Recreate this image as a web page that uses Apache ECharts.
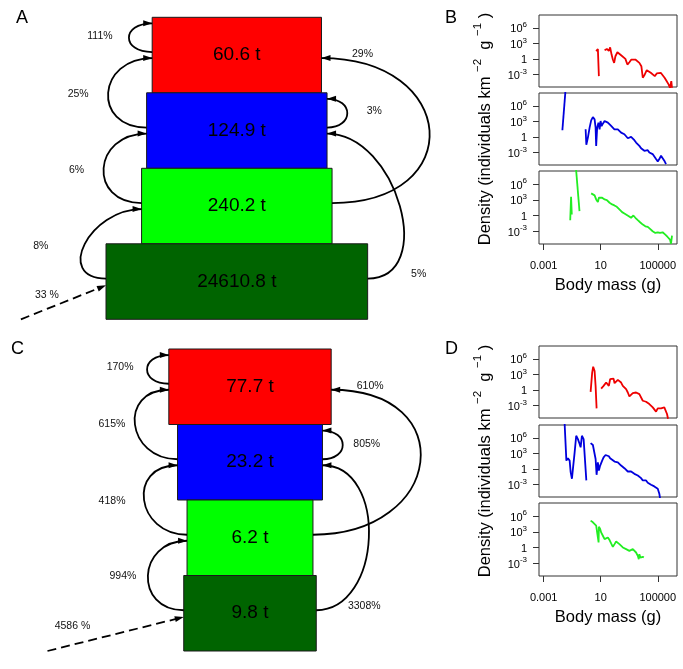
<!DOCTYPE html>
<html><head><meta charset="utf-8">
<script src="https://cdn.jsdelivr.net/npm/echarts@6/dist/echarts.min.js"></script>
<style>html,body{margin:0;padding:0;background:#fff}#c{width:683px;height:669px}</style>
</head><body><div id="c"></div><script>
const FONT = '"Liberation Sans", Arial, Helvetica, sans-serif';

// ---------- Panels A & C : biomass per trophic level (t), top level first ----------
const levelColors = ['#FF0000', '#0000FF', '#00FF00', '#006400'];
const biomassA = [60.6, 124.9, 240.2, 24610.8];
const biomassC = [77.7, 23.2, 6.2, 9.8];
// flows: [from level, to level, side, label]
const flowsA = [[0,0,'L','111%'],[1,0,'L','25%'],[2,1,'L','6%'],[3,2,'L','8%'],[1,1,'R','3%'],[2,0,'R','29%'],[3,1,'R','5%']];
const flowsC = [[0,0,'L','170%'],[1,0,'L','615%'],[2,1,'L','418%'],[3,2,'L','994%'],[1,1,'R','805%'],[2,0,'R','610%'],[3,1,'R','3308%']];
const importA = '33 %';
const importC = '4586 %';

// ---------- Panels B & D : size spectra, [log10 body mass (g), log10 density] ----------
const bRed1 = [[0.68,1.5],[0.80,1.9],[0.87,-3.34]];
const bRed2 = [[1.27,1.66],[1.43,1.92],[1.57,1.53],[1.66,2.24],[1.76,0.83],[1.85,-0.13],[1.94,-0.77],[2.03,0.51],[2.17,1.28],[2.31,1.03],[2.45,0.64],[2.59,0.38],[2.73,0.0],[2.87,-1.1],[3.01,-0.65],[3.15,-0.13],[3.29,0.19],[3.43,-0.13],[3.57,-0.44],[3.71,-0.77],[3.85,-1.42],[3.95,-3.66],[4.09,-3.02],[4.23,-2.19],[4.37,-2.44],[4.51,-2.70],[4.65,-3.08],[4.79,-3.34],[4.93,-2.83],[5.07,-2.57],[5.21,-2.70],[5.35,-3.08],[5.48,-3.66],[5.62,-4.30],[5.76,-4.94],[5.86,-5.6],[5.95,-4.30],[6.0,-5.6]];
const bBlue1 = [[-1.69,1.28],[-1.45,9.8]];
const bBlue2 = [[-0.06,1.47],[-0.01,-1.54],[0.10,-0.13],[0.22,1.79],[0.33,3.20],[0.45,3.84],[0.57,3.39],[0.64,1.79],[0.68,-1.74],[0.75,1.79],[0.84,2.75],[0.92,1.47],[0.99,3.07],[1.06,2.11],[1.15,2.56],[1.27,3.07],[1.38,2.94],[1.50,2.75],[1.62,2.43],[1.73,2.11],[1.85,1.92],[1.96,1.47],[2.08,1.66],[2.20,1.47],[2.31,1.28],[2.43,0.83],[2.55,0.64],[2.66,0.51],[2.78,0.19],[2.90,-0.26],[3.01,-0.13],[3.13,0.0],[3.25,-0.26],[3.36,-0.65],[3.48,-1.1],[3.60,-1.42],[3.71,-1.74],[3.83,-2.19],[3.95,-2.06],[4.06,-2.70],[4.18,-2.38],[4.30,-2.57],[4.41,-3.02],[4.53,-3.21],[4.64,-3.34],[4.76,-3.66],[4.88,-4.30],[5.00,-4.75],[5.11,-4.30],[5.23,-3.66],[5.34,-3.98],[5.46,-4.62],[5.58,-5.27]];
const bGreen1 = [[-1.14,-0.9],[-1.08,3.59],[-1.03,0.2]];
const bGreen2 = [[-0.76,9.8],[-0.49,0.83]];
const bGreen3 = [[0.33,4.22],[0.45,4.35],[0.57,3.84],[0.68,3.07],[0.80,2.56],[0.87,3.39],[0.96,3.59],[1.10,3.39],[1.27,3.07],[1.43,2.94],[1.62,2.43],[1.80,2.11],[1.96,1.92],[2.13,1.66],[2.31,1.15],[2.50,0.64],[2.66,0.38],[2.78,0.19],[2.97,-0.13],[3.13,-0.44],[3.29,0.0],[3.43,-0.44],[3.60,-0.90],[3.76,-1.29],[3.95,-1.74],[4.13,-2.06],[4.30,-2.19],[4.46,-2.57],[4.64,-3.02],[4.83,-3.34],[5.00,-3.21],[5.16,-3.34],[5.34,-3.21],[5.53,-3.66],[5.69,-4.11],[5.86,-4.62],[5.93,-5.4],[6.0,-3.85]];
const dRed1 = [[0.29,-0.38],[0.40,3.34],[0.47,4.49],[0.57,3.66],[0.64,0.78],[0.71,-3.58]];
const dRed2 = [[1.03,0.26],[1.20,0.78],[1.38,1.42],[1.50,1.74],[1.57,0.78],[1.66,2.06],[1.73,2.38],[1.80,1.74],[1.90,2.19],[1.97,1.29],[2.08,1.54],[2.20,1.93],[2.31,1.93],[2.43,1.42],[2.55,0.78],[2.66,0.46],[2.78,0.13],[2.90,-0.51],[3.01,-1.28],[3.13,-1.02],[3.25,-0.63],[3.36,-0.38],[3.48,-0.51],[3.60,-0.63],[3.71,-0.83],[3.83,-1.15],[3.95,-2.11],[4.06,-1.79],[4.18,-2.30],[4.30,-2.43],[4.41,-2.75],[4.53,-2.94],[4.65,-3.39],[4.76,-3.71],[4.88,-4.22],[5.00,-3.58],[5.11,-3.39],[5.23,-3.58],[5.35,-3.39],[5.46,-3.39],[5.58,-3.71],[5.65,-4.67],[5.72,-5.6]];
const dBlue1 = [[-1.55,9.8],[-1.41,1.60],[-1.30,2.05],[-1.18,1.60],[-1.11,-0.64],[-1.02,-1.92],[-0.95,0.0],[-0.83,3.21],[-0.72,6.41],[-0.60,5.77],[-0.48,4.81],[-0.41,4.17],[-0.32,6.41],[-0.20,5.77],[-0.13,6.09],[-0.06,5.77],[-0.01,-2.24]];
const dBlue2 = [[0.29,5.0],[0.45,4.62],[0.57,4.49],[0.64,1.92],[0.71,-1.15],[0.80,1.28],[0.87,-0.32],[0.96,0.64],[1.03,0.96],[1.10,1.60],[1.20,2.24],[1.34,2.69],[1.43,2.56],[1.57,2.44],[1.66,2.05],[1.80,1.92],[1.97,1.41],[2.08,1.60],[2.20,1.28],[2.31,1.09],[2.43,0.64],[2.55,0.32],[2.66,0.13],[2.78,-0.13],[2.90,-0.51],[3.01,-0.32],[3.13,-0.51],[3.25,-0.64],[3.36,-0.96],[3.48,-1.15],[3.60,-1.28],[3.71,-1.60],[3.83,-1.79],[3.95,-2.24],[4.06,-1.92],[4.18,-2.24],[4.30,-2.69],[4.41,-2.88],[4.53,-3.08],[4.65,-3.21],[4.76,-3.40],[4.88,-3.33],[5.00,-3.85],[5.11,-4.81],[5.16,-5.7]];
const dGreen1 = [[0.29,5.13],[0.45,4.81],[0.57,4.49],[0.68,4.17],[0.80,3.97],[0.85,0.96],[0.87,3.97],[0.96,3.53],[1.03,2.88],[1.15,2.24],[1.27,1.60],[1.38,1.28],[1.50,1.92],[1.62,1.41],[1.73,0.77],[1.85,0.13],[1.97,0.64],[2.08,1.15],[2.20,0.96],[2.31,0.64],[2.43,0.32],[2.55,0.0],[2.66,-0.13],[2.78,-0.32],[2.90,-0.51],[3.01,-0.64],[3.13,-0.51],[3.25,-0.32],[3.36,-0.51],[3.48,-0.96],[3.60,-1.60],[3.67,-2.24],[3.71,-1.28],[3.78,-1.92],[3.85,-1.60],[3.95,-1.79],[4.02,-1.92]];

const xTickValues = [-3, 1, 5];
const xTickLabels = ['0.001', '10', '100000'];
const yTickValues = [-3, 0, 3, 6];
const yTickLabels = ['{b|10}{s|-3}', '{b|1}', '{b|10}{s|3}', '{b|10}{s|6}'];

// ---------- styles (not data) ----------
const lineColors = {red:'#EE0000', blue:'#0000DD', green:'#22EE22'};
const styleA = {bend:[31,55,54,52,27,137,70],
  label:[['mid',-29,-2],['mid',-30,1],['mid',-27,1.5],['mid',-44,2.5],['mid',27,-2],['end',41,-4],['start',51,-4]],
  importFrom:[-6.1,0], importLabel:[26,-24]};
const styleC = {bend:[29,51,51,50,27,131,66],
  label:[['mid',-27,-2],['mid',-23,0],['mid',-32,1],['mid',-25,1],['mid',24,-1],['end',39,-4],['start',48,-4]],
  importFrom:[-6.1,0], importLabel:[25,-25]};

function halfWidth(b){ return Math.log10(b * 1000) / 2; }

function boxSeries(biomass, gi){
  return {type:'custom', xAxisIndex:gi, yAxisIndex:gi, z:2,
    data: biomass.map((b,i)=>[i,b]),
    renderItem(params, api){
      const i = api.value(0), b = api.value(1), hw = halfWidth(b), row = 3 - i;
      const p0 = api.coord([-hw, row+1]), p1 = api.coord([hw, row]);
      return {type:'group', children:[
        {type:'rect', shape:{x:p0[0], y:p0[1], width:p1[0]-p0[0], height:p1[1]-p0[1]},
          style:{fill:levelColors[i], stroke:'#1a1a1a', lineWidth:1}},
        {type:'text', style:{text:b.toFixed(1)+' t', x:(p0[0]+p1[0])/2, y:(p0[1]+p1[1])/2,
          align:'center', verticalAlign:'middle', textAlign:'center', textVerticalAlign:'middle',
          fontSize:19, fontFamily:FONT, fill:'#000'}}
      ]};
    }};
}

function head(tip, dir, L, W){
  const nx = -dir[1], ny = dir[0];
  const bx = tip[0] - dir[0]*L, by = tip[1] - dir[1]*L;
  return {type:'polygon', shape:{points:[[tip[0],tip[1]],[bx+nx*W, by+ny*W],[bx-nx*W, by-ny*W]]}, style:{fill:'#000'}};
}
function labelText(txt, x, y){
  return {type:'text', style:{text:txt, x:x, y:y, align:'center', verticalAlign:'middle',
    textAlign:'center', textVerticalAlign:'middle', fontSize:10.5, fontFamily:FONT, fill:'#111'}};
}

function flowSeries(biomass, flows, impLabel, st, gi){
  return {type:'custom', xAxisIndex:gi, yAxisIndex:gi, z:3,
    data: flows.map((f,i)=>[i]).concat([[flows.length]]),
    renderItem(params, api){
      const k = params.dataIndex;
      if (k < flows.length){
        const [from, to, side, label] = flows[k];
        const s = side === 'L' ? -1 : 1;
        const y0 = (3-from) + 0.5 + 0.04;
        const y3 = from === to ? (3-to) + 0.92 : (3-to) + 0.5 - 0.04;
        const P0 = api.coord([s*halfWidth(biomass[from]), y0]);
        const P3 = api.coord([s*halfWidth(biomass[to]), y3]);
        const c = st.bend[k];
        const P1 = [P0[0]+s*c, P0[1]], P2 = [P3[0]+s*c, P3[1]];
        const mid = [0.125*P0[0]+0.375*P1[0]+0.375*P2[0]+0.125*P3[0], 0.125*P0[1]+0.375*P1[1]+0.375*P2[1]+0.125*P3[1]];
        const lp = st.label[k];
        const ref = lp[0]==='mid' ? mid : (lp[0]==='start' ? P0 : P3);
        return {type:'group', children:[
          {type:'bezierCurve', shape:{x1:P0[0], y1:P0[1], cpx1:P1[0], cpy1:P1[1], cpx2:P2[0], cpy2:P2[1], x2:P3[0], y2:P3[1]},
            style:{stroke:'#000', lineWidth:1.8, fill:null}},
          head(P3, [-s, 0], 9, 3),
          labelText(label, ref[0]+lp[1], ref[1]+lp[2])
        ]};
      }
      const hw = halfWidth(biomass[3]);
      const S = api.coord(st.importFrom), E = api.coord([-hw, 0.45]);
      const dx = E[0]-S[0], dy = E[1]-S[1], len = Math.hypot(dx, dy);
      return {type:'group', children:[
        {type:'line', shape:{x1:S[0], y1:S[1], x2:E[0]-dx/len*6, y2:E[1]-dy/len*6},
          style:{stroke:'#000', lineWidth:1.8, lineDash:[9,5]}},
        head(E, [dx/len, dy/len], 9, 3),
        labelText(impLabel, S[0]+st.importLabel[0], S[1]+st.importLabel[1])
      ]};
    }};
}

// ---------- grids ----------
const smallTopsB = [15, 93, 171], smallTopsD = [346, 425, 503];
const smallH = [72, 72, 73];
const grids = [
  {left:0, top:17.3, width:473.65, height:302, outerBoundsMode:'none'},
  {left:0, top:349, width:500, height:302, outerBoundsMode:'none'}
];
const xAxes = [
  {type:'value', gridIndex:0, min:-6.69, max:6.69, show:false},
  {type:'value', gridIndex:1, min:-7.53, max:7.53, show:false}
];
const yAxes = [
  {type:'value', gridIndex:0, min:0, max:4, show:false},
  {type:'value', gridIndex:1, min:0, max:4, show:false}
];
const series = [
  boxSeries(biomassA, 0), flowSeries(biomassA, flowsA, importA, styleA, 0),
  boxSeries(biomassC, 1), flowSeries(biomassC, flowsC, importC, styleC, 1)
];
const yName = '{n|Density (individuals km }{s|−2}{n|  g }{s|−1}{n| )}';

function addSmall(top, h, pos, segs){
  const gi = grids.length;
  const bottom = pos === 2, middle = pos === 1;
  grids.push({left:539, top:top, width:138, height:h, show:true, borderColor:'#333', borderWidth:1,
    backgroundColor:'transparent', outerBoundsMode:'none'});
  xAxes.push({type:'value', gridIndex:gi, min:-3.33, max:6.35, position:'bottom',
    axisLine:{show:false, onZero:false}, splitLine:{show:false},
    axisTick:{show:bottom, customValues:xTickValues, length:6, lineStyle:{color:'#333', width:1}},
    axisLabel:{show:bottom, customValues:xTickValues, margin:16, fontSize:11, color:'#000', fontFamily:FONT,
      formatter:(v)=>xTickLabels[xTickValues.indexOf(v)] || ''},
    name: bottom ? 'Body mass (g)' : '', nameLocation:'middle', nameGap:33, nameMoveOverlap:false,
    nameTextStyle:{fontSize:16.5, color:'#000', fontFamily:FONT}});
  yAxes.push({type:'value', gridIndex:gi, min:-5.45, max:8.5, position:'left',
    axisLine:{show:false, onZero:false}, splitLine:{show:false},
    axisTick:{show:true, customValues:yTickValues, length:6, lineStyle:{color:'#333', width:1}},
    axisLabel:{show:true, customValues:yTickValues, margin:12, color:'#000', fontFamily:FONT,
      formatter:(v)=>yTickLabels[yTickValues.indexOf(v)] || '',
      rich:{b:{fontSize:11, lineHeight:14, fontFamily:FONT, color:'#000', verticalAlign:'bottom'},
            s:{fontSize:8, lineHeight:9, fontFamily:FONT, color:'#000', verticalAlign:'top'}}},
    name: middle ? yName : '', nameLocation:'middle', nameGap:45, nameRotate:90, nameMoveOverlap:false,
    nameTextStyle:{color:'#000', fontFamily:FONT,
      rich:{n:{fontSize:16.5, lineHeight:22, fontFamily:FONT, color:'#000', verticalAlign:'bottom'},
            s:{fontSize:11.5, lineHeight:12, fontFamily:FONT, color:'#000', verticalAlign:'top'}}}});
  segs.forEach(([data, col])=>{
    series.push({type:'line', xAxisIndex:gi, yAxisIndex:gi, data:data, symbol:'none', showSymbol:false,
      clip:true, lineStyle:{color:lineColors[col], width:1.8}, z:2});
  });
}
addSmall(smallTopsB[0], smallH[0], 0, [[bRed1,'red'],[bRed2,'red']]);
addSmall(smallTopsB[1], smallH[1], 1, [[bBlue1,'blue'],[bBlue2,'blue']]);
addSmall(smallTopsB[2], smallH[2], 2, [[bGreen1,'green'],[bGreen2,'green'],[bGreen3,'green']]);
addSmall(smallTopsD[0], smallH[0], 0, [[dRed1,'red'],[dRed2,'red']]);
addSmall(smallTopsD[1], smallH[1], 1, [[dBlue1,'blue'],[dBlue2,'blue']]);
addSmall(smallTopsD[2], smallH[2], 2, [[dGreen1,'green']]);

const letter = (t, l, tp) => ({type:'text', left:l, top:tp, style:{text:t, fontSize:18, fontFamily:FONT, fill:'#000'}});

const chart = echarts.init(document.getElementById('c'), null, {renderer:'canvas'});
chart.setOption({
  animation:false,
  backgroundColor:'#fff',
  grid:grids, xAxis:xAxes, yAxis:yAxes, series:series,
  graphic:[letter('A',16,9), letter('B',445,9), letter('C',11,340), letter('D',445,340)]
});
</script></body></html>
